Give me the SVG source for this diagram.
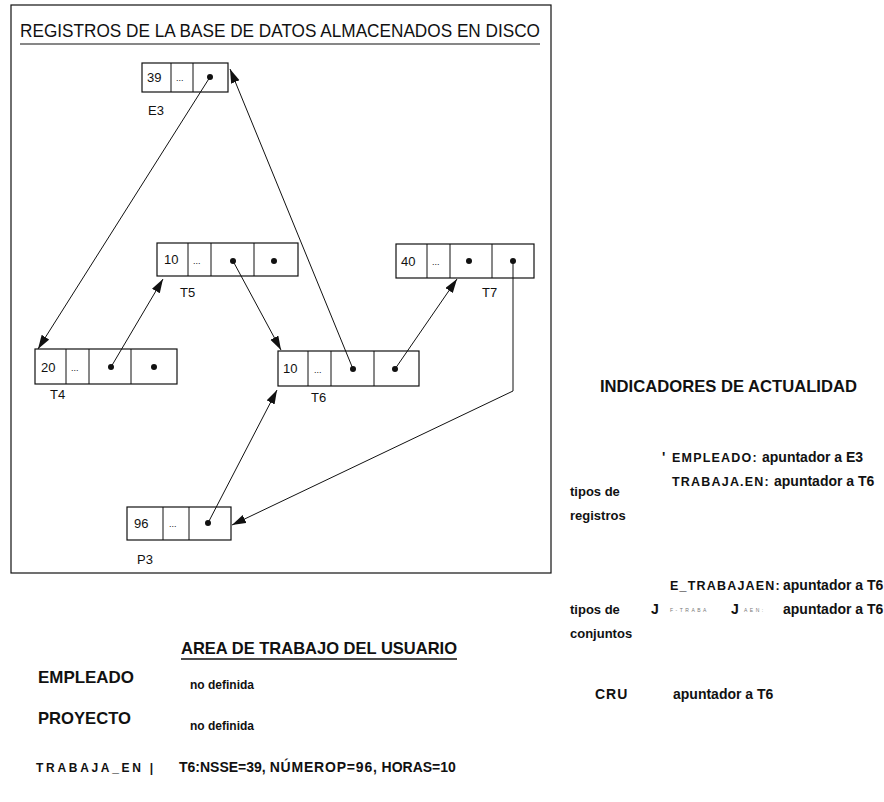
<svg xmlns="http://www.w3.org/2000/svg" width="884" height="802" viewBox="0 0 884 802">
  <style>
    .cell { fill: #fff; stroke: #111; stroke-width: 1.2; }
    .div { stroke: #111; stroke-width: 1; }
    .val { font-family: "Liberation Sans", Arial, sans-serif; font-size: 13px; fill: #111; }
    .dots { font-family: "Liberation Sans", Arial, sans-serif; font-size: 9px; fill: #111; }
    .lbl { font-family: "Liberation Sans", Arial, sans-serif; font-size: 13px; fill: #111; }
    .pt { fill: #111; }
    .conn { fill: none; stroke: #111; stroke-width: 1; marker-end: url(#head); }
    .b { font-family: "Liberation Sans", Arial, sans-serif; font-weight: bold; fill: #111; }
    .head { font-size: 17px; }
    .ptr { font-size: 14px; }
    .caps { font-size: 12.5px; letter-spacing: 1.2px; }
    .side { font-size: 13px; }
    .nd { font-size: 12px; }
    .tiny { font-family: "Liberation Sans", Arial, sans-serif; font-size: 5px; fill: #777; letter-spacing: 2.5px; }
  </style>
  <defs>
    <marker id="head" markerUnits="userSpaceOnUse" markerWidth="15" markerHeight="10" refX="14" refY="4.5" orient="auto">
      <path d="M0,0 L14,4.5 L0,9 Z" fill="#111"/>
    </marker>
  </defs>

  <!-- disk frame -->
  <rect x="11" y="5" width="540" height="568" fill="none" stroke="#111" stroke-width="1.2"/>
  <text x="20" y="37" font-family="Liberation Sans, Arial, sans-serif" font-size="18" fill="#111" textLength="520" lengthAdjust="spacingAndGlyphs">REGISTROS DE LA BASE DE DATOS ALMACENADOS EN DISCO</text>
  <line x1="20" y1="44" x2="540" y2="44" stroke="#111" stroke-width="1.2"/>

  <!-- records -->
  <g id="E3">
    <rect class="cell" x="142" y="63" width="86" height="29"/>
    <line class="div" x1="171" y1="63" x2="171" y2="92"/>
    <line class="div" x1="193" y1="63" x2="193" y2="92"/>
    <text class="val" x="147" y="82">39</text>
    <text class="dots" x="176" y="81">...</text>
    <circle class="pt" cx="210" cy="77" r="3"/>
    <text class="lbl" x="148" y="115">E3</text>
  </g>

  <g id="T5">
    <rect class="cell" x="157" y="243" width="141" height="33"/>
    <line class="div" x1="188" y1="243" x2="188" y2="276"/>
    <line class="div" x1="211" y1="243" x2="211" y2="276"/>
    <line class="div" x1="254" y1="243" x2="254" y2="276"/>
    <text class="val" x="164" y="264">10</text>
    <text class="dots" x="193" y="264">...</text>
    <circle class="pt" cx="233" cy="261" r="3"/>
    <circle class="pt" cx="274" cy="261" r="3"/>
    <text class="lbl" x="180" y="297">T5</text>
  </g>

  <g id="T7">
    <rect class="cell" x="396" y="244" width="138" height="34"/>
    <line class="div" x1="427" y1="244" x2="427" y2="278"/>
    <line class="div" x1="450" y1="244" x2="450" y2="278"/>
    <line class="div" x1="492" y1="244" x2="492" y2="278"/>
    <text class="val" x="401" y="266">40</text>
    <text class="dots" x="432" y="265">...</text>
    <circle class="pt" cx="469" cy="261" r="3"/>
    <circle class="pt" cx="513" cy="261" r="3"/>
    <text class="lbl" x="482" y="297">T7</text>
  </g>

  <g id="T4">
    <rect class="cell" x="35" y="349" width="142" height="35"/>
    <line class="div" x1="66" y1="349" x2="66" y2="384"/>
    <line class="div" x1="89" y1="349" x2="89" y2="384"/>
    <line class="div" x1="131" y1="349" x2="131" y2="384"/>
    <text class="val" x="41" y="372">20</text>
    <text class="dots" x="71" y="371">...</text>
    <circle class="pt" cx="111" cy="367" r="3"/>
    <circle class="pt" cx="154" cy="367" r="3"/>
    <text class="lbl" x="50" y="399">T4</text>
  </g>

  <g id="T6">
    <rect class="cell" x="278" y="351" width="141" height="35"/>
    <line class="div" x1="308" y1="351" x2="308" y2="386"/>
    <line class="div" x1="331" y1="351" x2="331" y2="386"/>
    <line class="div" x1="374" y1="351" x2="374" y2="386"/>
    <text class="val" x="283" y="373">10</text>
    <text class="dots" x="314" y="373">...</text>
    <circle class="pt" cx="353" cy="369" r="3"/>
    <circle class="pt" cx="395" cy="369" r="3"/>
    <text class="lbl" x="311" y="402">T6</text>
  </g>

  <g id="P3">
    <rect class="cell" x="127" y="507" width="104" height="33"/>
    <line class="div" x1="163" y1="507" x2="163" y2="540"/>
    <line class="div" x1="189" y1="507" x2="189" y2="540"/>
    <text class="val" x="134" y="528">96</text>
    <text class="dots" x="169" y="527">...</text>
    <circle class="pt" cx="208" cy="523" r="3"/>
    <text class="lbl" x="137" y="564">P3</text>
  </g>

  <!-- pointer chains -->
  <g id="connectors">
    <line class="conn" x1="210" y1="77" x2="38" y2="349"/>
    <line class="conn" x1="111" y1="367" x2="163" y2="279"/>
    <line class="conn" x1="233" y1="261" x2="281" y2="350"/>
    <line class="conn" x1="353" y1="369" x2="230" y2="69"/>
    <line class="conn" x1="395" y1="369" x2="457" y2="279"/>
    <polyline class="conn" points="513,261 513,391 232,525"/>
    <line class="conn" x1="208" y1="523" x2="277" y2="390"/>
  </g>

  <!-- currency indicators -->
  <g id="indicadores">
    <text class="b head" x="600" y="392" textLength="257" lengthAdjust="spacingAndGlyphs">INDICADORES DE ACTUALIDAD</text>
    <text class="b ptr" x="662" y="462">'</text>
    <text class="b caps" x="672" y="462">EMPLEADO:</text>
    <text class="b ptr" x="762" y="462">apuntador a E3</text>
    <text class="b caps" x="672" y="486">TRABAJA.EN:</text>
    <text class="b ptr" x="774" y="486">apuntador a T6</text>
    <text class="b side" x="570" y="496">tipos de</text>
    <text class="b side" x="570" y="520">registros</text>

    <text class="b caps" x="670" y="590" letter-spacing="0.8">E_TRABAJAEN:</text>
    <text class="b ptr" x="783" y="590">apuntador a T6</text>
    <text class="b side" x="570" y="614">tipos de</text>
    <text class="b ptr" x="651" y="614">J</text>
    <text class="tiny" x="670" y="612">F-TRABA</text>
    <text class="b ptr" x="731" y="614">J</text>
    <text class="tiny" x="744" y="612">AEN:</text>
    <text class="b ptr" x="783" y="614">apuntador a T6</text>
    <text class="b side" x="570" y="638">conjuntos</text>

    <text class="b ptr" x="595" y="699" letter-spacing="1">CRU</text>
    <text class="b ptr" x="673" y="699">apuntador a T6</text>
  </g>

  <!-- user work area -->
  <g id="area-usuario">
    <text class="b head" x="181" y="654" textLength="276" lengthAdjust="spacingAndGlyphs">AREA DE TRABAJO DEL USUARIO</text>
    <line x1="181" y1="659" x2="457" y2="659" stroke="#111" stroke-width="1.3"/>
    <text class="b head" x="38" y="683" textLength="96" lengthAdjust="spacingAndGlyphs">EMPLEADO</text>
    <text class="b nd" x="190" y="689">no definida</text>
    <text class="b head" x="38" y="724" textLength="93" lengthAdjust="spacingAndGlyphs">PROYECTO</text>
    <text class="b nd" x="190" y="730">no definida</text>
    <text class="b" font-size="12" letter-spacing="2.7" x="36" y="772">TRABAJA_EN |</text>
    <text class="b ptr" x="179" y="772">T6:NSSE=39, <tspan letter-spacing="0.8">NÚMEROP=96,</tspan> HORAS=10</text>
  </g>
</svg>
